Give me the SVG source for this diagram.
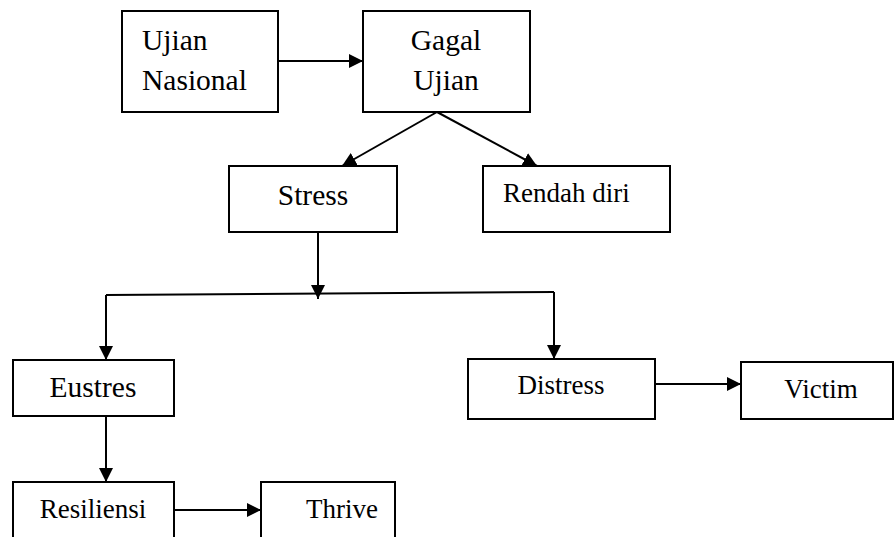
<svg xmlns="http://www.w3.org/2000/svg" width="895" height="537" viewBox="0 0 895 537">
<style>
.box{fill:#fff;stroke:#000;stroke-width:2}
.t{font-family:"Liberation Serif","Times New Roman",serif;font-size:27px;fill:#000}
.big{font-size:29.5px}
.c{text-anchor:middle}
.ln{fill:none;stroke:#000;stroke-width:2}
</style>
<defs>
<marker id="ah" markerWidth="14" markerHeight="14" viewBox="0 0 14 14" refX="14" refY="7" orient="auto" markerUnits="userSpaceOnUse">
<path d="M0,0 L14,7 L0,14 Z" fill="#000"/>
</marker>
</defs>
<rect width="895" height="537" fill="#fff"/>
<g id="connectors">
<line class="ln" x1="278" y1="61" x2="363" y2="61" marker-end="url(#ah)"/>
<line class="ln" x1="437" y1="112" x2="342" y2="166" marker-end="url(#ah)"/>
<line class="ln" x1="437" y1="112" x2="537" y2="166" marker-end="url(#ah)"/>
<line class="ln" x1="318" y1="232" x2="318" y2="299" marker-end="url(#ah)"/>
<polyline class="ln" points="106,295 554,292"/>
<line class="ln" x1="106" y1="295" x2="106" y2="360" marker-end="url(#ah)"/>
<line class="ln" x1="554" y1="292" x2="554" y2="359" marker-end="url(#ah)"/>
<line class="ln" x1="655" y1="384" x2="741" y2="384" marker-end="url(#ah)"/>
<line class="ln" x1="106" y1="416" x2="106" y2="482" marker-end="url(#ah)"/>
<line class="ln" x1="174" y1="510" x2="261" y2="510" marker-end="url(#ah)"/>
</g>
<g id="ujian-nasional">
<rect class="box" x="122" y="11" width="156" height="101"/>
<text class="t big" x="142" y="50">Ujian</text>
<text class="t big" x="142" y="90">Nasional</text>
</g>
<g id="gagal-ujian">
<rect class="box" x="363" y="11" width="167" height="101"/>
<text class="t big c" x="446" y="50">Gagal</text>
<text class="t big c" x="446" y="90">Ujian</text>
</g>
<g id="stress">
<rect class="box" x="229" y="166" width="168" height="66"/>
<text class="t big c" x="313" y="205">Stress</text>
</g>
<g id="rendah-diri">
<rect class="box" x="483" y="166" width="187" height="66"/>
<text class="t" x="503" y="202">Rendah diri</text>
</g>
<g id="eustres">
<rect class="box" x="13" y="360" width="161" height="56"/>
<text class="t big c" x="93" y="397">Eustres</text>
</g>
<g id="distress">
<rect class="box" x="468" y="359" width="187" height="60"/>
<text class="t c" x="561" y="394">Distress</text>
</g>
<g id="victim">
<rect class="box" x="741" y="362" width="152" height="57"/>
<text class="t c" x="821" y="398">Victim</text>
</g>
<g id="resiliensi">
<rect class="box" x="13" y="482" width="161" height="70"/>
<text class="t c" x="93" y="518">Resiliensi</text>
</g>
<g id="thrive">
<rect class="box" x="261" y="482" width="134" height="70"/>
<text class="t c" x="342" y="518">Thrive</text>
</g>
</svg>
